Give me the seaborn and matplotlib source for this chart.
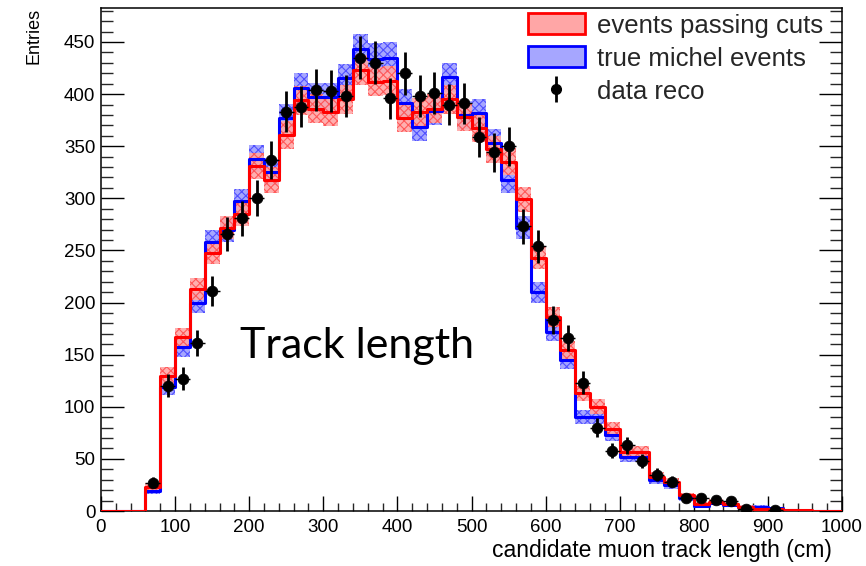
import numpy as np
import pandas as pd
import matplotlib
matplotlib.use("Agg")
import matplotlib.pyplot as plt
from matplotlib.patches import Patch
import seaborn as sns

# ---------------- data ----------------
bin_edges = list(range(0, 1001, 20))          # 50 bins of 20 cm
bin_centers = [e + 10 for e in bin_edges[:-1]]

passing_cuts = [0, 0, 0, 23, 130, 167, 213, 248, 272, 285,
                331, 318, 361, 394, 386, 383, 395, 423, 412, 413,
                377, 383, 386, 395, 378, 367, 347, 335, 299, 243,
                186, 154, 113, 100, 79, 57, 57, 33, 28, 15,
                7, 9, 7, 4, 2, 2, 1, 0.5, 0.4, 0.4]
passing_err = [0, 0, 0, 3.4, 8.0, 9.0, 10.2, 11.0, 11.5, 11.8,
               12.7, 12.5, 13.3, 13.9, 13.8, 13.7, 13.9, 14.4, 14.2, 14.2,
               13.6, 13.7, 13.8, 13.9, 13.6, 13.4, 13.0, 12.8, 12.1, 10.9,
               9.5, 8.7, 7.4, 7.0, 6.2, 5.3, 5.3, 4.0, 3.7, 2.7,
               1.9, 2.1, 1.9, 1.4, 1.0, 1.0, 0.7, 0.5, 0.4, 0.4]

true_michel = [0, 0, 0, 19, 119, 157, 200, 258, 270, 297,
               338, 325, 377, 406, 397, 397, 415, 443, 434, 435,
               391, 368, 384, 416, 380, 382, 353, 318, 272, 210,
               172, 145, 90, 90, 73, 52, 52, 30, 25, 12,
               5, 8, 6, 4, 4, 3, 1, 0.3, 0.3, 0.3]
michel_err = [0, 0, 0, 3.1, 7.6, 8.8, 9.9, 11.2, 11.5, 12.1,
              12.9, 12.6, 13.6, 14.1, 13.9, 13.9, 14.3, 14.7, 14.6, 14.6,
              13.8, 13.4, 13.7, 14.3, 13.6, 13.7, 13.2, 12.5, 11.5, 10.1,
              9.2, 8.4, 6.6, 6.6, 6.0, 5.0, 5.0, 3.8, 3.5, 2.4,
              1.6, 2.0, 1.7, 1.4, 1.4, 1.2, 0.7, 0.4, 0.4, 0.4]

data_x = [70, 90, 110, 130, 150, 170, 190, 210, 230, 250,
          270, 290, 310, 330, 350, 370, 390, 410, 430, 450,
          470, 490, 510, 530, 550, 570, 590, 610, 630, 650,
          670, 690, 710, 730, 750, 770, 790, 810, 830, 850,
          870, 910]
data_y = [27, 120, 127, 161, 211, 266, 281, 300, 337, 383,
          388, 404, 403, 398, 435, 430, 396, 420, 398, 401,
          390, 391, 359, 344, 350, 273, 254, 183, 166, 123,
          80, 58, 63, 48, 35, 28, 12, 12, 11, 10,
          2, 1]
data_err = [5.2, 11.0, 11.3, 12.7, 14.5, 16.3, 16.8, 17.3, 18.4, 19.6,
            19.7, 20.1, 20.1, 20.0, 20.9, 20.7, 19.9, 20.5, 20.0, 20.0,
            19.7, 19.8, 18.9, 18.5, 18.7, 16.5, 15.9, 13.5, 12.9, 11.1,
            8.9, 7.6, 7.9, 6.9, 5.9, 5.3, 3.5, 3.5, 3.3, 3.2,
            1.4, 1.0]

legend_labels = ["events passing cuts", "true michel events", "data reco"]
x_title = "candidate muon track length (cm)"
y_title = "Entries"
annotation = "Track length"

# ---------------- style ----------------
sns.set_theme(style="ticks")
plt.rcParams["font.family"] = ["Liberation Sans", "DejaVu Sans"]
plt.rcParams["hatch.linewidth"] = 0.8

RED = "#ff0000"
BLUE = "#0000ff"
RED_BAND = "#ffa6a6"
BLUE_BAND = "#a6a6ff"

fig = plt.figure(figsize=(8.66, 5.66), dpi=100)
ax = fig.add_axes([101 / 866, 1 - 511 / 566, 741 / 866, 503 / 566])

hist_df = pd.DataFrame({"x": bin_centers, "pass": passing_cuts,
                        "michel": true_michel})

def band(vals, errs):
    lo = [v - e for v, e in zip(vals, errs)]
    hi = [v + e for v, e in zip(vals, errs)]
    return lo + [lo[-1]], hi + [hi[-1]]

blo, bhi = band(true_michel, michel_err)
ax.fill_between(bin_edges, blo, bhi, step="post", facecolor=BLUE_BAND,
                edgecolor="#5050ff", hatch="xxxx", linewidth=0, zorder=1)
rlo, rhi = band(passing_cuts, passing_err)
ax.fill_between(bin_edges, rlo, rhi, step="post", facecolor=RED_BAND,
                edgecolor="#ff5050", hatch="xxxx", linewidth=0, alpha=0.9,
                zorder=2)

# histograms
sns.histplot(data=hist_df, x="x", weights="michel", bins=bin_edges,
             element="step", fill=False, color=BLUE, linewidth=2.2,
             ax=ax, zorder=3)
sns.histplot(data=hist_df, x="x", weights="pass", bins=bin_edges,
             element="step", fill=False, color=RED, linewidth=2.2,
             ax=ax, zorder=4)

# data points
ax.errorbar(data_x, data_y, xerr=10, fmt="none", ecolor="black",
            elinewidth=1.0, zorder=5)
ax.errorbar(data_x, data_y, yerr=data_err, fmt="none", ecolor="black",
            elinewidth=2.0, zorder=6)
sns.scatterplot(x=data_x, y=data_y, color="black", s=60, edgecolor="black",
                linewidth=0.5, ax=ax, zorder=7)

# axes
ax.set_xlim(0, 1000)
ax.set_ylim(0, 482.6)
ax.set_xticks(range(0, 1001, 100))
ax.set_xticks(range(0, 1001, 20), minor=True)
ax.set_yticks(range(0, 451, 50))
ax.set_yticks(range(0, 481, 10), minor=True)
ax.set_xlabel("")
ax.set_ylabel("")
for s in ax.spines.values():
    s.set_visible(True)
    s.set_linewidth(1.1)
    s.set_color("black")
ax.tick_params(axis="y", which="major", direction="in", length=16.5,
               width=1.0, left=True, right=True, labelsize=13.5, pad=4,
               colors="black")
ax.tick_params(axis="y", which="minor", direction="in", length=8.5,
               width=1.0, left=True, right=True)
ax.tick_params(axis="x", which="major", direction="in", length=11,
               width=1.0, bottom=True, top=False, labelsize=13.5, pad=6,
               colors="black")
ax.tick_params(axis="x", which="minor", direction="in", length=5.5,
               width=1.0, bottom=True, top=False)
ax.grid(False)

fig.text(832 / 866, 1 - 551 / 566, x_title, ha="right", va="center",
         fontsize=16.5, color="black")
fig.text(34 / 866, 1 - 8 / 566, y_title, ha="center", va="top",
         rotation=90, fontsize=13, color="black")

ax.text(187, 158, annotation, ha="left", va="center", fontsize=31,
        family=["Lato", "DejaVu Sans"], color="black")

# legend
h_red = Patch(facecolor=RED_BAND, edgecolor=RED, linewidth=2.0)
h_blue = Patch(facecolor=BLUE_BAND, edgecolor=BLUE, linewidth=2.0)
h_data = ax.errorbar([], [], yerr=[], fmt="o", color="black",
                     markersize=7, elinewidth=2.0)
leg = ax.legend([h_red, h_blue, h_data], legend_labels,
                loc="upper left", bbox_to_anchor=(528 / 866, 1 - 13 / 566),
                bbox_transform=fig.transFigure, frameon=False,
                fontsize=18.5, handlelength=2.2, handleheight=0.9,
                handletextpad=0.5, labelspacing=0.33, borderpad=0,
                borderaxespad=0)

fig.savefig("out.png", dpi=100)
